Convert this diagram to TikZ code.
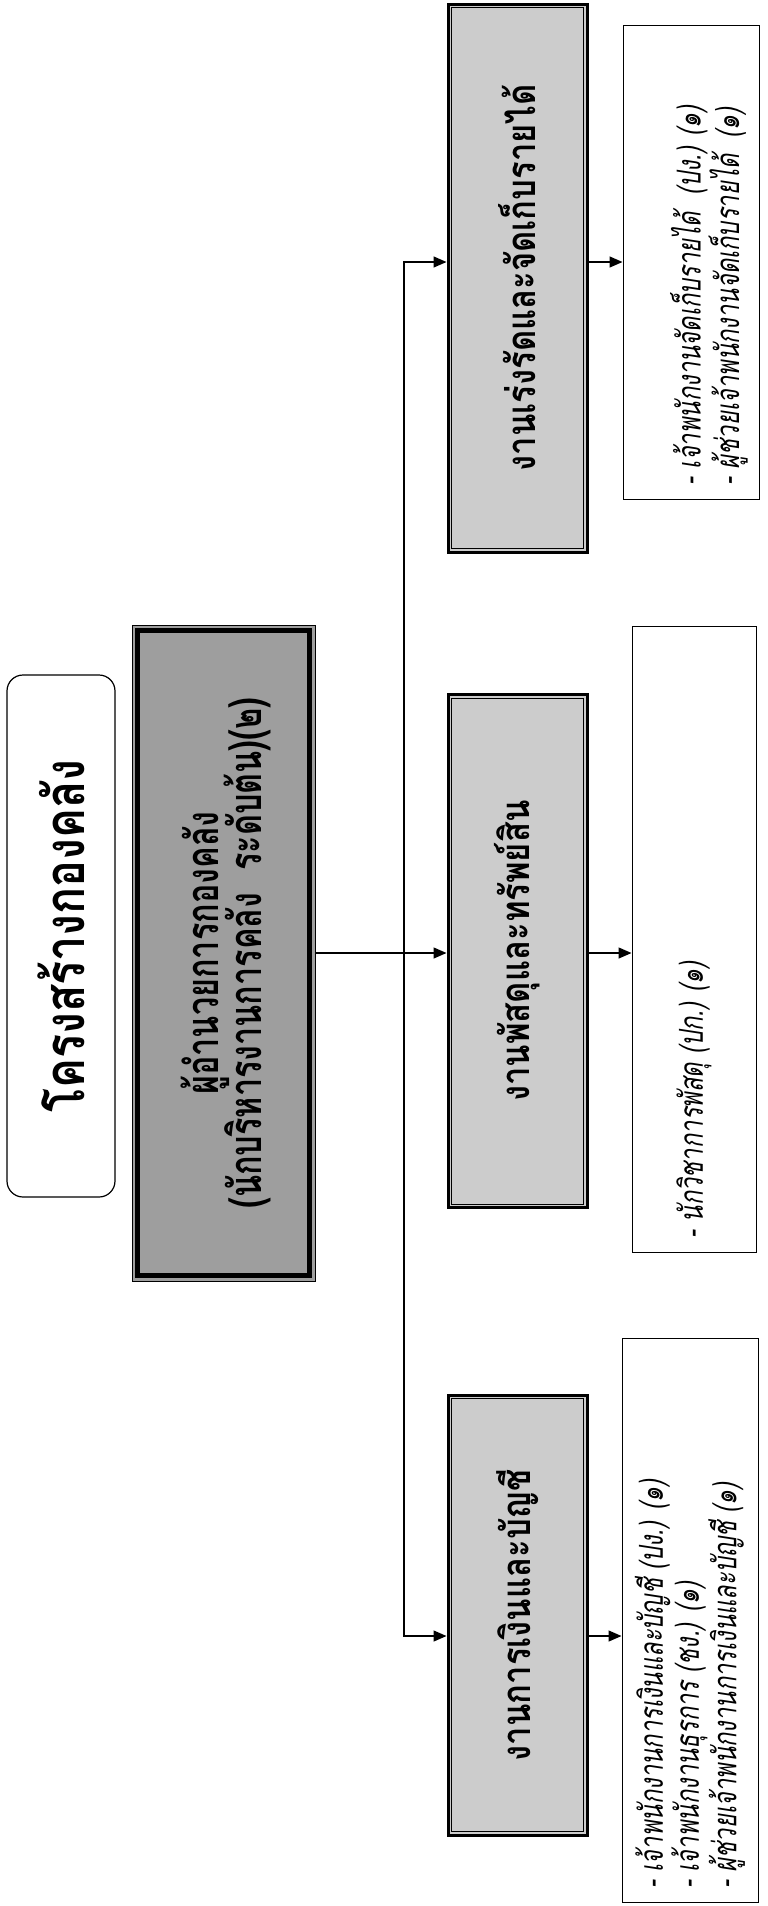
\documentclass[tikz,border=0pt]{standalone}
\usepackage{fontspec}
\usepackage{tikz}
\usetikzlibrary{arrows.meta}
\newfontfamily\titlefont[Script=Thai,FakeStretch=0.8]{Loma}
\newfontfamily\thaicond[Script=Thai,FakeStretch=0.72]{Loma}
\newfontfamily\thaiunit[Script=Thai,FakeStretch=0.82]{Loma}
\definecolor{headfill}{gray}{0.62}
\definecolor{unitfill}{gray}{0.80}
\newcommand{\stafflist}[3][0pt]{\rotatebox{90}{\parbox{#2}{\raggedright\vspace*{#1}#3}}}

\begin{document}
\begin{tikzpicture}[x=1pt, y=-1pt,
    titlebox/.style={draw, line width=1.2pt, rounded corners=16pt,
                     minimum width=108pt, minimum height=522pt,
                     font=\titlefont\bfseries\fontsize{56}{60}\selectfont},
    headbox/.style={draw, line width=1pt, fill=headfill,
                    minimum width=183pt, minimum height=656pt,
                    font=\thaicond\bfseries\fontsize{45}{43}\selectfont},
    unitbox/.style={draw, line width=3pt, fill=unitfill, minimum width=139pt,
                    font=\thaiunit\bfseries\fontsize{40}{44}\selectfont},
    staffbox/.style={draw, line width=1pt,
                     font=\thaicond\itshape\fontsize{33}{32}\selectfont},
    link/.style={line width=1.4pt, -{Triangle[length=13pt,width=11pt]}}
]
\useasboundingbox (0,0) rectangle (768,1906);

% title
\node[titlebox] (title) at (61,936) {\rotatebox{90}{โครงสร้างกองคลัง}};

% head of division
\node[headbox] (mainb) at (223.5,953) {\rotatebox{90}{\raisebox{0pt}[\dimexpr\height+16pt\relax][\depth]{\begin{tabular}{@{}c@{}}\smash{ผู้อำนวยการกองคลัง}\\\smash{(นักบริหารงานการคลัง\ \ ระดับต้น)(๒)}\end{tabular}}}};
\draw[line width=5pt] ([shift={(6pt,-6pt)}]mainb.north west) rectangle ([shift={(-6pt,6pt)}]mainb.south east);

% sections
\node[unitbox, minimum height=548pt] (topg) at (517.5,278) {\rotatebox{90}{งานเร่งรัดและจัดเก็บรายได้}};
\node[unitbox, minimum height=513pt] (midg) at (517.5,951) {\rotatebox{90}{งานพัสดุและทรัพย์สิน}};
\node[unitbox, minimum height=440pt] (botg) at (517.5,1615) {\rotatebox{90}{งานการเงินและบัญชี}};
\foreach \n in {topg,midg,botg}
  \draw[line width=1pt] ([shift={(5pt,-5pt)}]\n.north west) rectangle ([shift={(-5pt,5pt)}]\n.south east);

% staff lists
\node[staffbox, minimum width=136pt, minimum height=474pt] (topw) at (691,262)
  {\stafflist[36pt]{446pt}{- เจ้าพนักงานจัดเก็บรายได้\ \ (ปง.) (๑)\\- ผู้ช่วยเจ้าพนักงานจัดเก็บรายได้\ \ (๑)}};
\node[staffbox, minimum width=124pt, minimum height=626pt] (midw) at (694,939)
  {\stafflist{598pt}{- นักวิชาการพัสดุ (ปก.) (๑)}};
\node[staffbox, minimum width=136pt, minimum height=564pt] (botw) at (690,1620)
  {\stafflist{536pt}{- เจ้าพนักงานการเงินและบัญชี (ปง.) (๑)\\- เจ้าพนักงานธุรการ (ชง.) (๑)\\- ผู้ช่วยเจ้าพนักงานการเงินและบัญชี (๑)}};

% connectors
\coordinate (split) at (404,953);
\coordinate (botrow) at ([yshift=-21pt]botg.west);
\draw[link] (mainb.east) -- (midg.west |- mainb.east);
\draw[link] (split) |- (topg.west |- topw.west);
\draw[link] (split) |- (botrow);
\draw[link] (topg.east |- topw.west) -- (topw.west);
\draw[link] (midg.east |- mainb.east) -- (midw.west |- mainb.east);
\draw[link] (botg.east |- botrow) -- (botw.west |- botrow);

\end{tikzpicture}
\end{document}
